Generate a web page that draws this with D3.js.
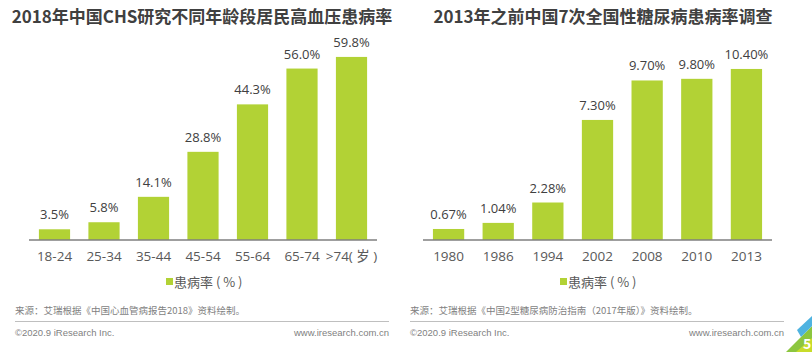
<!DOCTYPE html>
<html>
<head>
<meta charset="utf-8">
<script src="https://cdn.jsdelivr.net/npm/d3@7"></script>
<style>
  body { margin: 0; background: #fff; }
  svg { display: block; font-family: "Noto Sans CJK SC", "Noto Sans", sans-serif; }
</style>
</head>
<body>
<div id="chart"></div>
<script>
// data
const ageGroups = ['18-24', '25-34', '35-44', '45-54', '55-64', '65-74', '>74( 岁 )'];
const hypertensionRates = [3.5, 5.8, 14.1, 28.8, 44.3, 56.0, 59.8];
const surveyYears = ['1980', '1986', '1994', '2002', '2008', '2010', '2013'];
const diabetesRates = [0.67, 1.04, 2.28, 7.30, 9.70, 9.80, 10.40];

const titles = ['2018年中国CHS研究不同年龄段居民高血压患病率', '2013年之前中国7次全国性糖尿病患病率调查'];
const legendLabel = '患病率 ( % )';
const sources = ['来源：艾瑞根据《中国心血管病报告2018》资料绘制。', '来源：艾瑞根据《中国2型糖尿病防治指南（2017年版）》资料绘制。'];

const W = 812, H = 352;
const green = '#b2d235';
const latin = '"Open Sans", "Noto Sans CJK SC", sans-serif';

const svg = d3.select('#chart').append('svg')
  .attr('width', W)
  .attr('height', H);

function drawPanel (opt) {
  const g = svg.append('g');

  g.append('text')
    .attr('x', opt.titleX)
    .attr('y', 23)
    .attr('text-anchor', 'middle')
    .attr('font-size', 17)
    .attr('font-weight', 'bold')
    .attr('fill', '#404040')
    .text(opt.title);

  const x = d3.scaleBand()
    .domain(opt.cats)
    .range([opt.x0, opt.x1])
    .paddingInner(0.37)
    .paddingOuter(0.2);

  const y = d3.scaleLinear()
    .domain([0, opt.yMax])
    .range([240, 41]);

  g.selectAll('rect.bar')
    .data(opt.values)
    .enter().append('rect')
    .attr('class', 'bar')
    .attr('x', (d, i) => x(opt.cats[i]))
    .attr('y', d => y(d))
    .attr('width', x.bandwidth())
    .attr('height', d => y(0) - y(d))
    .attr('fill', green);

  g.selectAll('text.val')
    .data(opt.values)
    .enter().append('text')
    .attr('class', 'val')
    .attr('x', (d, i) => x(opt.cats[i]) + x.bandwidth() / 2)
    .attr('y', d => y(d) - 10)
    .attr('text-anchor', 'middle')
    .attr('font-family', latin)
    .attr('font-size', 13)
    .attr('fill', '#404040')
    .text(d => opt.fmt(d));

  // baseline axis
  const axis = g.append('g')
    .attr('transform', 'translate(0,240)')
    .call(d3.axisBottom(x).tickSize(0).tickPadding(11));
  axis.select('.domain')
    .attr('d', 'M' + opt.x0 + ',0H' + opt.x1)
    .attr('stroke', '#7f7f7f')
    .attr('stroke-width', 1.5);
  axis.selectAll('.tick text')
    .attr('font-family', latin)
    .attr('font-size', 13.5)
    .attr('fill', '#595959');

  // legend
  const lg = g.append('g').attr('transform', 'translate(' + opt.legendX + ',0)');
  lg.append('rect')
    .attr('x', 0).attr('y', 278)
    .attr('width', 7).attr('height', 7)
    .attr('fill', green);
  lg.append('text')
    .attr('x', 8).attr('y', 287)
    .attr('font-size', 13)
    .attr('fill', '#595959')
    .text(legendLabel);

  // source + footer
  g.append('text')
    .attr('x', opt.footX0).attr('y', 314)
    .attr('font-size', 9.5)
    .attr('fill', '#7f7f7f')
    .text(opt.source);
  g.append('line')
    .attr('x1', opt.footX0).attr('x2', opt.footX1)
    .attr('y1', 321.5).attr('y2', 321.5)
    .attr('stroke', '#bfbfbf')
    .attr('stroke-width', 1);
  g.append('text')
    .attr('x', opt.footX0).attr('y', 336)
    .attr('font-family', '"Liberation Sans", Arial, sans-serif')
    .attr('font-size', 9.5)
    .attr('fill', '#7f7f7f')
    .text('©2020.9 iResearch Inc.');
  g.append('text')
    .attr('x', opt.footX1).attr('y', 336)
    .attr('text-anchor', 'end')
    .attr('font-family', '"Liberation Sans", Arial, sans-serif')
    .attr('font-size', 9.5)
    .attr('fill', '#7f7f7f')
    .text('www.iresearch.com.cn');
}

drawPanel({
  title: titles[0], titleX: 202,
  cats: ageGroups, values: hypertensionRates,
  x0: 29, x1: 377, yMax: 65,
  fmt: d => d.toFixed(1) + '%',
  legendX: 166,
  source: sources[0],
  footX0: 15, footX1: 389
});

drawPanel({
  title: titles[1], titleX: 603,
  cats: surveyYears, values: diabetesRates,
  x0: 423, x1: 772, yMax: 12.1,
  fmt: d => d.toFixed(2) + '%',
  legendX: 560,
  source: sources[1],
  footX0: 410, footX1: 784
});

// page corner decoration
const corner = svg.append('g');
corner.append('polygon')
  .attr('points', '786,352 812,326 812,352')
  .attr('fill', '#8cc63f');
corner.append('polygon')
  .attr('points', '796,352 812,338 812,352')
  .attr('fill', '#c8dc2a');
corner.append('polygon')
  .attr('points', '797,330 812,316 812,326 801,337')
  .attr('fill', '#4fb3e0');
corner.append('text')
  .attr('x', 803).attr('y', 349)
  .attr('font-size', 14)
  .attr('font-weight', 'bold')
  .attr('fill', '#fff')
  .text('5');
</script>
</body>
</html>
